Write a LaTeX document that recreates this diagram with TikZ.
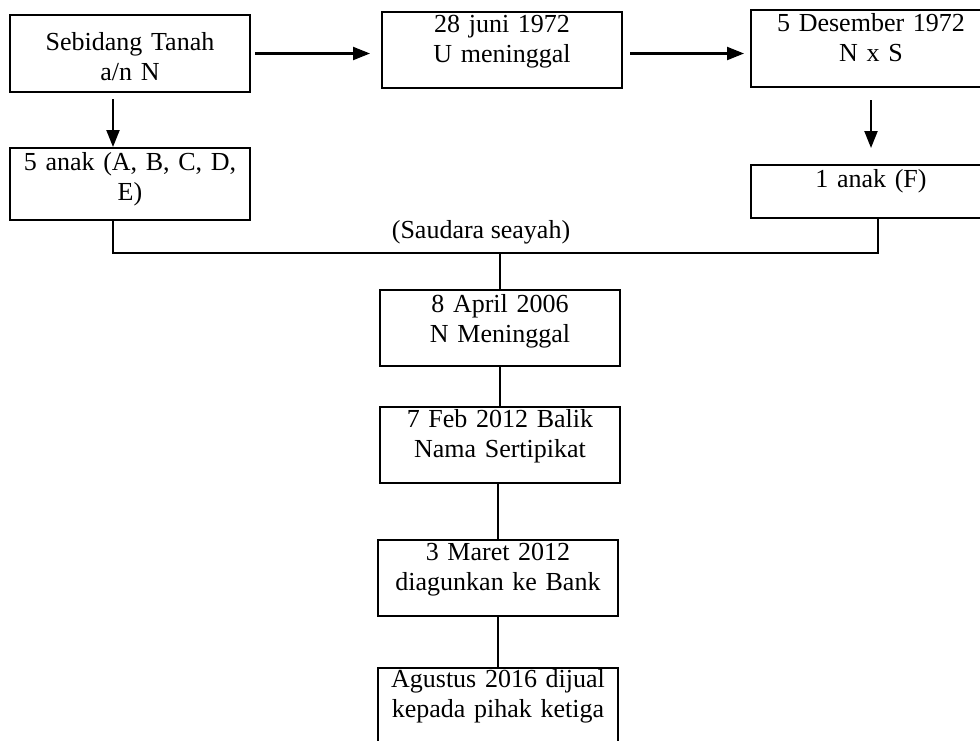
\documentclass[tikz,border=0pt]{standalone}
\usepackage{fontspec}
\setmainfont{Liberation Serif}
\usetikzlibrary{arrows.meta,positioning,calc}

\begin{document}
\begin{tikzpicture}
    [
    x=0.5pt, y=-0.5pt,
    every node/.style={font=\fontsize{13}{15}\selectfont},
    my box/.style={draw, line width=1.1pt, anchor=north west, inner sep=0pt,
        outer sep=0pt, text width=120pt, align=center},
    my arrow/.style={-{Triangle[length=8.5pt,width=6.5pt]}, line width=1.1pt},
    my line/.style={line width=1.1pt}
    ]
    \useasboundingbox (0,0) rectangle (980,740);
    \clip (0,0) rectangle (980,740);

    \node (tanah) [my box, text height=17.5pt, text depth=21pt] at (10,15) {Sebidang Tanah\\a/n N};
    \node (juni) [my box, text height=10pt, text depth=28pt] at (382,12) {28 juni 1972\\U meninggal};
    \node (desember) [my box, text height=10.5pt, text depth=28pt] at (751,10) {5 Desember 1972\\N x S};
    \node (anak) [my box, text height=11pt, text depth=25pt] at (10,148) {5 anak (A, B, C, D,\\E)};
    \node (anakf) [my box, text height=11pt, text depth=15.5pt] at (751,165) {1 anak (F)};

    % Jalur setelah kematian N
    \node (meninggal) [my box, text height=11pt, text depth=27pt] at (380,290) {8 April 2006\\N Meninggal};
    \node (balik) [my box, text height=10pt, text depth=28pt] at (380,407) {7 Feb 2012 Balik\\Nama Sertipikat};
    \node (agunan) [my box, text height=10pt, text depth=28pt] at (378,540) {3 Maret 2012\\diagunkan ke Bank};
    \node (dijual) [my box, text height=9.5pt, text depth=30.5pt] at (378,668) {Agustus 2016 dijual\\kepada pihak ketiga};

    \node (saudara) at (481,232) {(Saudara seayah)};
    \coordinate (mid) at (500,253);

    \draw [my arrow, shorten <=2.5pt, shorten >=6pt] (tanah.east) -- (tanah.east -| juni.west);
    \draw [my arrow, shorten <=4pt, shorten >=3.5pt] ([yshift=-1.75pt]juni.east) -- ([yshift=-1.75pt]juni.east -| desember.west);
    \draw [my arrow, shorten <=3.5pt, shorten >=0.5pt] ([xshift=-8.5pt]tanah.south) -- ([xshift=-8.5pt]tanah.south |- anak.north);
    \draw [my arrow, shorten <=6.5pt, shorten >=8.5pt] (desember.south) -- (desember.south |- anakf.north);

    \draw [my line] ([xshift=-8.5pt]anak.south) |- (mid) -| ([xshift=3.5pt]anakf.south);
    \draw [my line] (mid) -- (mid |- meninggal.north);
    \draw [my line] (meninggal.south) -- (meninggal.south |- balik.north);
    \draw [my line] (agunan.north) -- (agunan.north |- balik.south);
    \draw [my line] (agunan.south) -- (agunan.south |- dijual.north);

\end{tikzpicture}
\end{document}
